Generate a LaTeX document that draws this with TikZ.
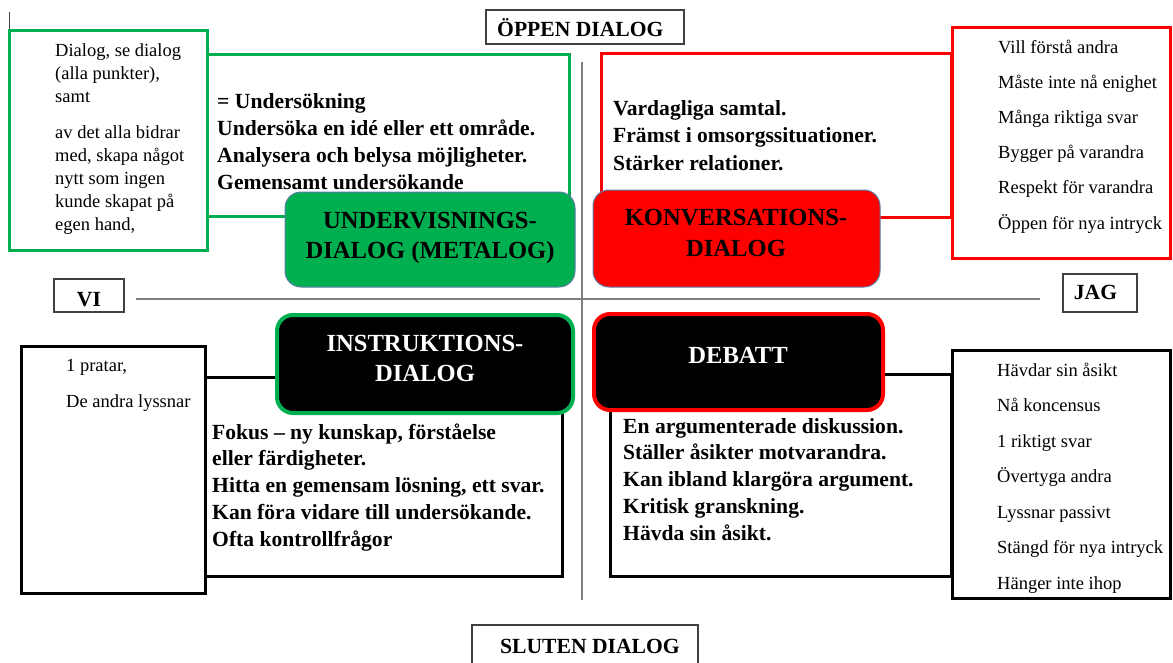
\documentclass[tikz,border=0pt]{standalone}
\usepackage{fontspec}
\setmainfont{Liberation Serif}
\definecolor{mygreen}{HTML}{00B050}
\definecolor{myred}{HTML}{FF0000}
\definecolor{edgeblue}{HTML}{5B7BA8}
\definecolor{axisgrey}{HTML}{7F7F7F}
\definecolor{labelgrey}{HTML}{404040}
\tikzset{
  frame/.style={draw, fill=white, line width=3pt, inner sep=0pt, outer sep=0pt, anchor=north west},
  greenframe/.style={frame, draw=mygreen},
  redframe/.style={frame, draw=myred},
  blackframe/.style={frame, draw=black},
  headbox/.style={rounded corners=16pt, inner sep=0pt, outer sep=0pt, anchor=north west},
  headtxt/.style={anchor=base, inner sep=0pt, font=\fontsize{24.6}{30}\selectfont\bfseries},
  smalltxt/.style={anchor=base west, inner sep=0pt, font=\fontsize{18.5}{22}\selectfont},
  boldtxt/.style={anchor=base west, inner sep=0pt, font=\fontsize{21.6}{26}\selectfont\bfseries},
  labelbox/.style={draw=labelgrey, line width=1.3pt, fill=white, inner sep=0pt, outer sep=0pt, anchor=north west},
  axis/.style={draw=axisgrey, line width=1.5pt}
}
\begin{document}
\begin{tikzpicture}[x=1pt,y=-1pt]
\clip (0,0) rectangle (1173,662);
\fill[white] (0,0) rectangle (1173,662);

% axes
\coordinate (vtop) at (582,62);
\coordinate (vbot) at (582,600);
\coordinate (hleft) at (136,299);
\coordinate (hright) at (1040,299);
\draw[axis] (vtop) -- (vbot);
\draw[axis] (hleft) -- (hright);

% small tick top-left
\coordinate (ticka) at (9,12);
\coordinate (tickb) at (9,30);
\draw[labelgrey, line width=1pt] (ticka) -- (tickb);

% frames
\node[greenframe, minimum width=362pt, minimum height=162pt] (tlbig) at (207,54) {};
\node[greenframe, minimum width=198pt, minimum height=220pt] (tlsmall) at (9,30) {};
\node[redframe, minimum width=350pt, minimum height=164pt] (trbig) at (601,53) {};
\node[redframe, minimum width=218pt, minimum height=231pt] (trsmall) at (952,27) {};
\node[blackframe, minimum width=357pt, minimum height=199pt] (blbig) at (205,377) {};
\node[blackframe, minimum width=184pt, minimum height=247pt] (blsmall) at (21,346) {};
\node[blackframe, minimum width=341pt, minimum height=202pt] (brbig) at (610,374) {};
\node[blackframe, minimum width=218pt, minimum height=248pt] (brsmall) at (952,350) {};

% heading boxes
\node[headbox, fill=mygreen, draw=edgeblue, line width=1pt, minimum width=290pt, minimum height=95pt] (undbox) at (285,192) {};
\node[headbox, fill=myred, draw=edgeblue, line width=1pt, minimum width=287pt, minimum height=97pt] (konbox) at (593,190) {};
\node[headbox, fill=black, draw=mygreen, line width=4pt, minimum width=296pt, minimum height=98pt] (insbox) at (277,315) {};
\node[headbox, fill=black, draw=myred, line width=4pt, minimum width=289pt, minimum height=96pt] (debbox) at (594,314) {};

\node[headtxt] (und1) at (430,228) {UNDERVISNINGS-};
\node[headtxt] (und2) at (430,258) {DIALOG (METALOG)};
\node[headtxt] (kon1) at (736,225) {KONVERSATIONS-};
\node[headtxt] (kon2) at (736,256) {DIALOG};
\node[headtxt, text=white] (ins1) at (425,351) {INSTRUKTIONS-};
\node[headtxt, text=white] (ins2) at (425,381) {DIALOG};
\node[headtxt, text=white] (deb1) at (738,363) {DEBATT};

% label boxes
\node[labelbox, minimum width=198pt, minimum height=34pt] (oppbox) at (486,10) {};
\node[boldtxt] (opptxt) at (497,36) {ÖPPEN DIALOG};
\node[labelbox, minimum width=226pt, minimum height=50pt] (slubox) at (472,625) {};
\node[boldtxt] (slutxt) at (500,653) {SLUTEN DIALOG};
\node[labelbox, minimum width=70pt, minimum height=33pt] (vibox) at (54,279) {};
\node[boldtxt, anchor=base] (vitxt) at (89,306) {VI};
\node[labelbox, minimum width=74pt, minimum height=38pt] (jagbox) at (1063,274) {};
\node[boldtxt, anchor=base] (jagtxt) at (1095.5,299) {JAG};

% texts top-left small
\foreach \t [count=\i] in {{Dialog, se dialog},{(alla punkter),},{samt}}
  \node[smalltxt] (tla\i) at (55,{56+23*(\i-1)}) {\t};
\foreach \t [count=\i] in {{av det alla bidrar},{med, skapa något},{nytt som ingen},{kunde skapat på},{egen hand,}}
  \node[smalltxt] (tlb\i) at (55,{138+23*(\i-1)}) {\t};

% top-left big
\foreach \t [count=\i] in {{= Undersökning},{Undersöka en idé eller ett område.},{Analysera och belysa möjligheter.},{Gemensamt undersökande}}
  \node[boldtxt] (tlc\i) at (217,{108+27.3*(\i-1)}) {\t};

% top-right big
\foreach \t [count=\i] in {{Vardagliga samtal.},{Främst i omsorgssituationer.},{Stärker relationer.}}
  \node[boldtxt] (trc\i) at (613,{115+27.5*(\i-1)}) {\t};

% top-right small
\foreach \t [count=\i] in {{Vill förstå andra},{Måste inte nå enighet},{Många riktiga svar},{Bygger på varandra},{Respekt för varandra},{Öppen för nya intryck}}
  \node[smalltxt] (trs\i) at (998,{53+35.2*(\i-1)}) {\t};

% bottom-left small
\node[smalltxt] (bls1) at (66,371) {1 pratar,};
\node[smalltxt] (bls2) at (66,407) {De andra lyssnar};

% bottom-left big
\foreach \t [count=\i] in {{Fokus – ny kunskap, förståelse},{eller färdigheter.},{Hitta en gemensam lösning, ett svar.},{Kan föra vidare till undersökande.},{Ofta kontrollfrågor}}
  \node[boldtxt] (blc\i) at (212,{439+26.8*(\i-1)}) {\t};

% bottom-right big
\foreach \t [count=\i] in {{En argumenterade diskussion.},{Ställer åsikter motvarandra.},{Kan ibland klargöra argument.},{Kritisk granskning.},{Hävda sin åsikt.}}
  \node[boldtxt] (brc\i) at (623,{433+26.75*(\i-1)}) {\t};

% bottom-right small
\foreach \t [count=\i] in {{Hävdar sin åsikt},{Nå koncensus},{1 riktigt svar},{Övertyga andra},{Lyssnar passivt},{Stängd för nya intryck},{Hänger inte ihop}}
  \node[smalltxt] (brs\i) at (997,{376+35.5*(\i-1)}) {\t};
\end{tikzpicture}
\end{document}
